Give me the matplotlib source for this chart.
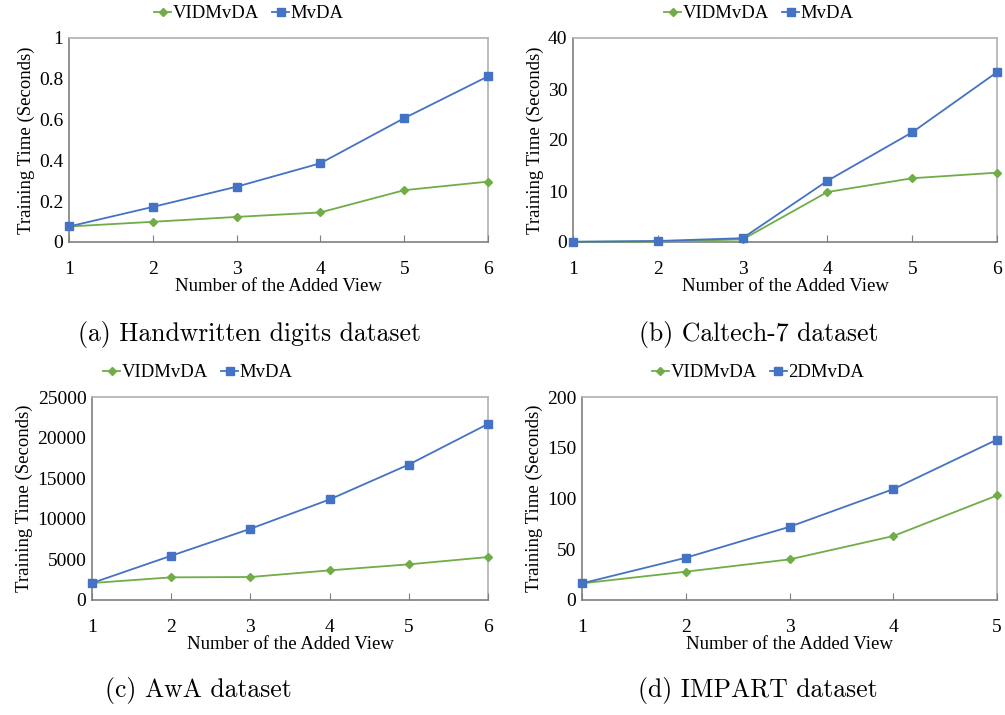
import matplotlib
matplotlib.use('Agg')
import matplotlib.pyplot as plt

# data
views6 = [1, 2, 3, 4, 5, 6]
views5 = [1, 2, 3, 4, 5]

hw_vidmvda = [0.076, 0.099, 0.123, 0.145, 0.254, 0.296]
hw_mvda = [0.076, 0.172, 0.271, 0.386, 0.607, 0.812]

cal_vidmvda = [0.03, 0.1, 0.5, 9.8, 12.5, 13.6]
cal_mvda = [0.05, 0.2, 0.75, 12.0, 21.5, 33.3]

awa_vidmvda = [2090, 2790, 2830, 3650, 4390, 5290]
awa_mvda = [2090, 5450, 8770, 12380, 16680, 21680]

imp_vidmvda = [16.4, 27.9, 40.0, 63.0, 103.0]
imp_2dmvda = [16.4, 41.6, 72.1, 109.2, 158.0]

GREEN = '#70ad47'
BLUE = '#4472c4'

plt.rcParams['font.family'] = ['Liberation Serif', 'DejaVu Serif']

fig = plt.figure(figsize=(10.05, 7.15), dpi=100)
W, H = 1005, 715


def make_axes(left, top, right, bottom):
    return fig.add_axes([left / W, 1 - bottom / H, (right - left) / W, (bottom - top) / H])


panels = [
    # (box px, x, y1, y2, name2, ymax, yticks, ytick labels, caption, centre x, caption y, legend y)
    ((69, 38, 488, 242), views6, hw_vidmvda, hw_mvda, 'MvDA', 1,
     [0, 0.2, 0.4, 0.6, 0.8, 1], ['0', '0.2', '0.4', '0.6', '0.8', '1'],
     '(a) Handwritten digits dataset', 249, 335, 5),
    ((573, 38, 997, 242), views6, cal_vidmvda, cal_mvda, 'MvDA', 40,
     [0, 10, 20, 30, 40], ['0', '10', '20', '30', '40'],
     '(b) Caltech-7 dataset', 759, 335, 5),
    ((92, 397, 488, 600), views6, awa_vidmvda, awa_mvda, 'MvDA', 25000,
     [0, 5000, 10000, 15000, 20000, 25000],
     ['0', '5000', '10000', '15000', '20000', '25000'],
     '(c) AwA dataset', 198, 690, 364),
    ((582, 397, 997, 600), views5, imp_vidmvda, imp_2dmvda, '2DMvDA', 200,
     [0, 50, 100, 150, 200], ['0', '50', '100', '150', '200'],
     '(d) IMPART dataset', 758, 690, 364),
]

for box, x, y1, y2, name2, ymax, yt, ytl, cap, cx, cy, ly in panels:
    ax = make_axes(*box)
    ax.plot(x, y1, color=GREEN, marker='D', markersize=4, linewidth=1.3, label='VIDMvDA')
    ax.plot(x, y2, color=BLUE, marker='s', markersize=5.5, linewidth=1.3, label=name2)
    ax.set_xlim(x[0], x[-1])
    ax.set_ylim(0, ymax)
    ax.set_xticks(x)
    ax.set_yticks(yt)
    ax.set_yticklabels(ytl)
    ax.tick_params(axis='x', direction='in', length=5, color='#7f7f7f', labelsize=14, pad=14)
    ax.tick_params(axis='y', length=0, labelsize=14, pad=4)
    for s in ['left', 'bottom']:
        ax.spines[s].set_color('#7f7f7f')
    for s in ['top', 'right']:
        ax.spines[s].set_color('#b0b0b0')
    for s in ax.spines.values():
        s.set_linewidth(1.2)
        s.set_zorder(0)
    for line in ax.lines:
        line.set_clip_on(False)
    ax.set_xlabel('Number of the Added View', fontsize=13.5, labelpad=0)
    ax.set_ylabel('Training Time (Seconds)', fontsize=13.5, labelpad=3)
    ax.legend(loc='upper center', bbox_to_anchor=(cx / W, 1 - ly / H),
              bbox_transform=fig.transFigure, ncol=2, frameon=False,
              fontsize=13.5, handlelength=0.9, handletextpad=0.1, columnspacing=0.7,
              borderaxespad=0, borderpad=0)
    fig.text(cx / W, 1 - cy / H, cap, family='cmr10', fontsize=18.5,
             ha='center', va='center')

fig.savefig('out.png', dpi=100)
